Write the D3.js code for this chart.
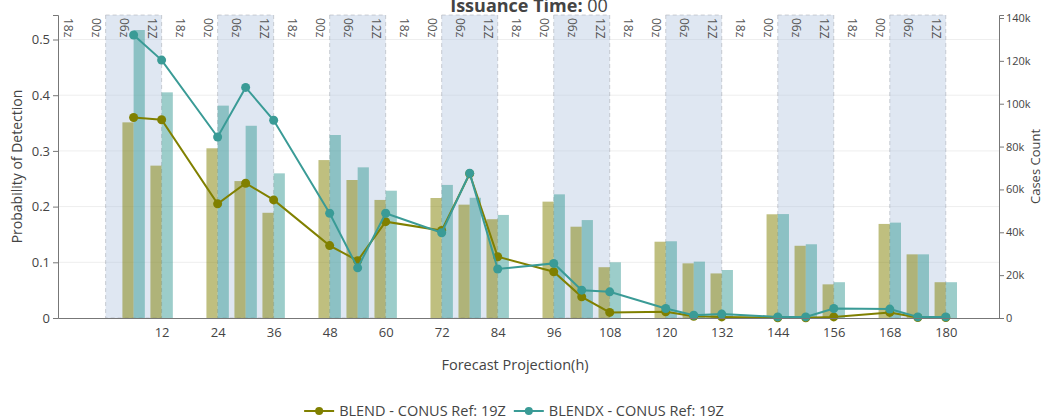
<!DOCTYPE html>
<html>
<head>
<meta charset="utf-8">
<script src="https://cdn.jsdelivr.net/npm/d3@7"></script>
<style>
  body { margin: 0; background: #fff; }
  svg { font-family: "Open Sans", sans-serif; }
</style>
</head>
<body>
<svg id="chart" width="1043" height="418"></svg>
<script>
// projections (hours) that carry a bar pair and a marker
const hours = [6, 12, 24, 30, 36, 48, 54, 60, 72, 78, 84, 96, 102, 108, 120, 126, 132, 144, 150, 156, 168, 174, 180];
// probability of detection
const blendPod  = [0.360, 0.356, 0.205, 0.242, 0.212, 0.130, 0.103, 0.173, 0.157, 0.259, 0.110, 0.083, 0.038, 0.010, 0.011, 0.003, 0.002, 0.0005, 0.0005, 0.002, 0.010, 0.001, 0.001];
const blendxPod = [0.508, 0.463, 0.325, 0.414, 0.355, 0.188, 0.090, 0.188, 0.153, 0.260, 0.088, 0.098, 0.050, 0.047, 0.017, 0.005, 0.007, 0.002, 0.002, 0.017, 0.016, 0.002, 0.002];
// cases count
const blendCases  = [91300, 71100, 79200, 63900, 49100, 73700, 64400, 55100, 56000, 52900, 46100, 54300, 42600, 23700, 35600, 25500, 20800, 48400, 33700, 15700, 43900, 29700, 16700];
const blendxCases = [134400, 105300, 99100, 89700, 67500, 85400, 70300, 59400, 62100, 56100, 48100, 57700, 45700, 26000, 35800, 26300, 22400, 48500, 34400, 16700, 44500, 29700, 16700];

const bottomTicks = [12, 24, 36, 48, 60, 72, 84, 96, 108, 120, 132, 144, 156, 168, 180];
const leftTicks = [0, 0.1, 0.2, 0.3, 0.4, 0.5];
const rightTicks = [0, 20000, 40000, 60000, 80000, 100000, 120000, 140000];
const topTickHours = [-6, 0, 6, 12, 18, 24, 30, 36, 42, 48, 54, 60, 66, 72, 78, 84, 90, 96, 102, 108, 114, 120, 126, 132, 138, 144, 150, 156, 162, 168, 174, 180];
const topTickLabels = ["18z", "00z", "06z", "12Z"];
const bands = [[0, 12], [24, 36], [48, 60], [72, 84], [96, 108], [120, 132], [144, 156], [168, 180]];

const series = [
    { name: "BLEND - CONUS Ref: 19Z", color: "#808000", pod: blendPod, cases: blendCases },
    { name: "BLENDX - CONUS Ref: 19Z", color: "#3a9b96", pod: blendxPod, cases: blendxCases }
];

const margin = { top: 15, right: 44, bottom: 100, left: 58 };
const width = 1043 - margin.left - margin.right;
const height = 418 - margin.top - margin.bottom;

const svg = d3.select("#chart")
    .append("g")
    .attr("transform", `translate(${margin.left},${margin.top})`);

const x = d3.scaleLinear().domain([-10.2, 191.4]).range([0, width]);
const yL = d3.scaleLinear().domain([0, 0.544]).range([height, 0]);
const yR = d3.scaleLinear().domain([0, 141400]).range([height, 0]);

const barW = x(2.4) - x(0);
const sub = d3.scaleBand().domain(series.map(s => s.name)).range([-barW, barW]).padding(0);

// gridlines
svg.append("g")
    .selectAll("line")
    .data(leftTicks.slice(1))
    .enter().append("line")
    .attr("x1", 0).attr("x2", width)
    .attr("y1", d => yL(d)).attr("y2", d => yL(d))
    .style("stroke", "#eee");

// shaded day bands
svg.append("g")
    .selectAll("rect")
    .data(bands)
    .enter().append("rect")
    .attr("x", d => x(d[0]))
    .attr("y", 0)
    .attr("width", d => x(d[1]) - x(d[0]))
    .attr("height", height)
    .style("fill", "rgba(176,196,222,0.4)")
    .style("stroke", "rgba(150,155,165,0.45)")
    .style("stroke-dasharray", "4,3");

// bars
series.forEach(s => {
    svg.append("g")
        .selectAll("rect")
        .data(hours.map((h, i) => ({ h, v: s.cases[i] })))
        .enter().append("rect")
        .attr("x", d => x(d.h) + sub(s.name))
        .attr("y", d => yR(d.v))
        .attr("width", sub.bandwidth())
        .attr("height", d => height - yR(d.v))
        .style("fill", s.color)
        .style("opacity", 0.5);
});

// lines and markers
const line = d3.line().x(d => x(d.h)).y(d => yL(d.v));
series.forEach(s => {
    const pts = hours.map((h, i) => ({ h, v: s.pod[i] }));
    svg.append("path")
        .datum(pts)
        .attr("d", line)
        .style("fill", "none")
        .style("stroke", s.color)
        .style("stroke-width", 2);
    svg.append("g")
        .selectAll("circle")
        .data(pts)
        .enter().append("circle")
        .attr("cx", d => x(d.h))
        .attr("cy", d => yL(d.v))
        .attr("r", 4.5)
        .style("fill", s.color);
});

// top time-of-day labels
svg.append("g")
    .selectAll("text")
    .data(topTickHours)
    .enter().append("text")
    .attr("transform", d => `translate(${x(d - 2)},3) rotate(90)`)
    .attr("dy", "0.35em")
    .style("font-size", "12px")
    .style("fill", "#555")
    .text((d, i) => topTickLabels[i % 4]);

// bottom axis
const xAxis = svg.append("g")
    .attr("class", "axis")
    .attr("transform", `translate(0,${height})`)
    .call(d3.axisBottom(x).tickValues(bottomTicks).tickSize(0).tickPadding(10));

// left axis
const leftAxis = svg.append("g")
    .attr("class", "axis")
    .call(d3.axisLeft(yL).tickValues(leftTicks).tickSize(5).tickPadding(3)
        .tickFormat(d => d === 0 ? "0" : d3.format(".1f")(d)));

// right axis
const rightAxis = svg.append("g")
    .attr("class", "axis")
    .attr("transform", `translate(${width},0)`)
    .call(d3.axisRight(yR).tickValues(rightTicks).tickSize(5).tickPadding(2)
        .tickFormat(d => d === 0 ? "0" : (d / 1000) + "k"));

svg.selectAll(".axis .domain").style("stroke", "#777");
svg.selectAll(".axis .tick line").style("stroke", "#777");
svg.selectAll(".axis text").style("fill", "#444").style("font-family", "Open Sans");
xAxis.selectAll("text").style("font-size", "13px");
leftAxis.selectAll("text").style("font-size", "13px");
rightAxis.selectAll("text").style("font-size", "11px");

// titles
const root = d3.select("#chart");
const title = root.append("text")
    .attr("x", 529).attr("y", 12)
    .attr("text-anchor", "middle")
    .style("font-size", "18px")
    .style("fill", "#444");
title.append("tspan").style("font-weight", "bold").text("Issuance Time: ");
title.append("tspan").text("00");

root.append("text")
    .attr("x", 515).attr("y", 370)
    .attr("text-anchor", "middle")
    .style("font-size", "14.5px")
    .style("fill", "#444")
    .text("Forecast Projection(h)");

root.append("text")
    .attr("transform", `translate(22,${margin.top + height / 2}) rotate(-90)`)
    .attr("text-anchor", "middle")
    .style("font-size", "14px")
    .style("fill", "#444")
    .text("Probability of Detection");

root.append("text")
    .attr("transform", `translate(1040,${margin.top + height / 2}) rotate(-90)`)
    .attr("text-anchor", "middle")
    .style("font-size", "13px")
    .style("fill", "#444")
    .text("Cases Count");

// legend
const legend = root.append("g").attr("transform", "translate(0,411)");
let lx = 0;
series.forEach(s => {
    const g = legend.append("g").attr("transform", `translate(${lx},0)`);
    g.append("line").attr("x1", 0).attr("x2", 30).attr("y1", 0).attr("y2", 0)
        .style("stroke", s.color).style("stroke-width", 2);
    g.append("circle").attr("cx", 15).attr("cy", 0).attr("r", 4).style("fill", s.color);
    const t = g.append("text").attr("x", 35).attr("dy", "0.35em")
        .style("font-size", "14.5px").style("fill", "#444").text(s.name);
    lx += 35 + t.node().getComputedTextLength() + 8;
});
const legendW = lx - 8;
legend.attr("transform", `translate(${514 - legendW / 2},411)`);
</script>
</body>
</html>
